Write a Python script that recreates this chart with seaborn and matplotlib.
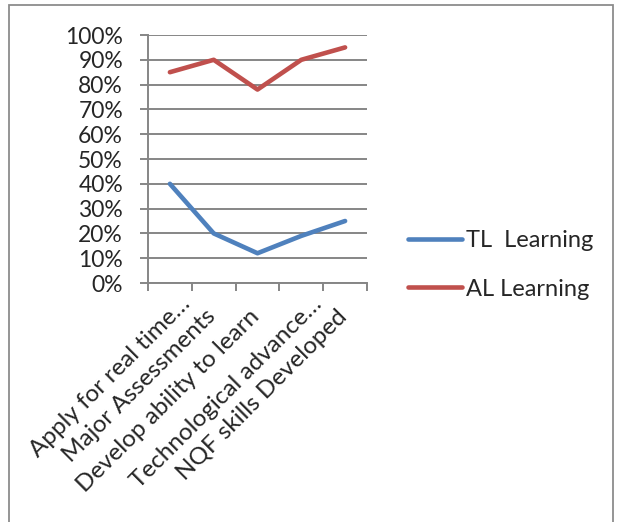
import matplotlib
matplotlib.use("Agg")
import matplotlib.pyplot as plt
import matplotlib.patches as mpatches
import matplotlib.transforms as mtransforms
import seaborn as sns
import pandas as pd
from matplotlib.ticker import FuncFormatter, FixedLocator

categories = [
    "Apply for real time\u2026",
    "Major Assessments",
    "Develop ability to learn",
    "Technological advance\u2026",
    "NQF skills Developed",
]
tl_learning = [40, 20, 12, 19, 25]
al_learning = [85, 90, 78, 90, 95]
series_names = ["TL  Learning", "AL Learning"]
y_ticks = list(range(0, 101, 10))

sns.set_style("white")
plt.rcParams["font.family"] = ["Lato", "DejaVu Sans"]

rows = []
for name, values in zip(series_names, [tl_learning, al_learning]):
    for i, v in enumerate(values):
        rows.append({"pos": i, "value": v, "series": name})
df = pd.DataFrame(rows)

fig = plt.figure(figsize=(6.21, 5.22), dpi=100)
ax = fig.add_axes([148 / 621, 1 - 283 / 522, (367 - 148) / 621, (283 - 35) / 522])

sns.lineplot(
    data=df, x="pos", y="value", hue="series", hue_order=series_names,
    palette={"TL  Learning": "#4F81BD", "AL Learning": "#C0504D"},
    linewidth=3.3, ax=ax, solid_capstyle="round", legend=True,
)

grid_color = "#868686"
ax.set_xlim(-0.5, len(categories) - 0.5)
ax.set_ylim(0, 100)
ax.yaxis.set_major_locator(FixedLocator(y_ticks))
ax.yaxis.set_major_formatter(FuncFormatter(lambda v, p: f"{int(v)}%"))
ax.grid(axis="y", color=grid_color, linewidth=1.4)
ax.set_axisbelow(True)
for side in ["top", "right"]:
    ax.spines[side].set_visible(False)
ax.spines["left"].set_color(grid_color)
ax.spines["left"].set_linewidth(1.4)
ax.spines["bottom"].set_color(grid_color)
ax.spines["bottom"].set_linewidth(1.4)
ax.tick_params(axis="y", length=6, width=1.4, color=grid_color, pad=12,
               labelsize=16.5, left=True)

# category boundaries carry the x tick marks, labels sit at the centers
ax.set_xticks([i - 0.5 for i in range(len(categories) + 1)])
ax.set_xticklabels([])
ax.set_xticks(list(range(len(categories))), minor=True)
ax.set_xticklabels(categories, minor=True, rotation=45, ha="right",
                   rotation_mode="anchor", fontsize=17.5)
ax.tick_params(axis="x", which="major", length=6, width=1.4, color=grid_color,
               bottom=True, direction="out")
ax.tick_params(axis="x", which="minor", length=0, pad=5)
# truncated labels fill the full label box; the complete ones sit lower-left
for lbl in ax.get_xticklabels(minor=True):
    if lbl.get_text().endswith("\u2026"):
        dx, dy = 10, -3
    else:
        dx, dy = -9, -16
    offset = mtransforms.ScaledTranslation(dx / 100, dy / 100, fig.dpi_scale_trans)
    lbl.set_transform(lbl.get_transform() + offset)
ax.set_xlabel("")
ax.set_ylabel("")

handles, labels = ax.get_legend_handles_labels()
ax.legend(handles, labels, loc="center left", bbox_to_anchor=(403 / 621, 1 - 265 / 522),
          bbox_transform=fig.transFigure, frameon=False, fontsize=17,
          handlelength=2.3, handletextpad=0.15, labelspacing=1.15,
          borderpad=0.2, borderaxespad=0)
for line in ax.get_legend().get_lines():
    line.set_linewidth(3.3)

fig.patches.append(mpatches.Rectangle((9 / 621, -0.05), (613 - 9) / 621, 1.05 - 5 / 522,
                                      transform=fig.transFigure, fill=False,
                                      edgecolor="#8c8c8c", linewidth=1.3))

fig.savefig("out.png", dpi=100)
